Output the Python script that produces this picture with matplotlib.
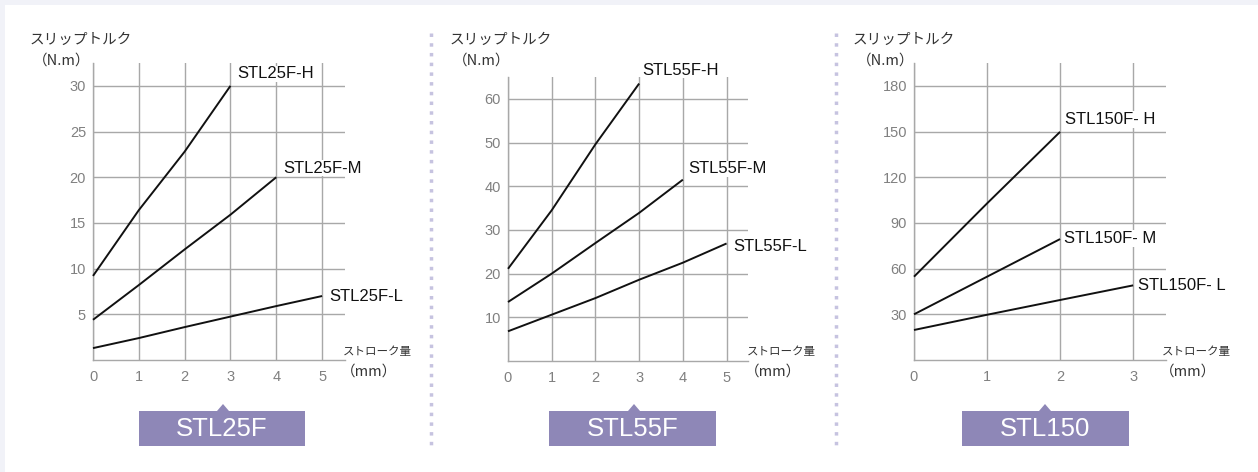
import matplotlib
matplotlib.use("Agg")
import matplotlib.pyplot as plt
from matplotlib.patches import Rectangle, Polygon
from matplotlib.lines import Line2D

plt.rcParams['font.family'] = ['Noto Sans CJK JP', 'DejaVu Sans']
LATIN = ['Liberation Sans', 'DejaVu Sans']

# ---- data ----
p1_x_h = [0, 1, 2, 3]
p1_y_h = [9.2, 16.4, 22.8, 30.0]
p1_x_m = [0, 1, 2, 3, 4]
p1_y_m = [4.4, 8.2, 12.1, 15.9, 20.0]
p1_x_l = [0, 1, 2, 3, 4, 5]
p1_y_l = [1.3, 2.4, 3.6, 4.75, 5.9, 7.0]
p1_labels = ["STL25F-H", "STL25F-M", "STL25F-L"]
p1_yticks = [5, 10, 15, 20, 25, 30]
p1_xticks = [0, 1, 2, 3, 4, 5]

p2_x_h = [0, 1, 2, 3]
p2_y_h = [21.1, 34.5, 49.6, 63.5]
p2_x_m = [0, 1, 2, 3, 4]
p2_y_m = [13.5, 20.0, 27.0, 33.9, 41.5]
p2_x_l = [0, 1, 2, 3, 4, 5]
p2_y_l = [6.8, 10.6, 14.4, 18.6, 22.5, 26.9]
p2_labels = ["STL55F-H", "STL55F-M", "STL55F-L"]
p2_yticks = [10, 20, 30, 40, 50, 60]
p2_xticks = [0, 1, 2, 3, 4, 5]

p3_x_h = [0, 1, 2]
p3_y_h = [54.7, 102.8, 149.8]
p3_x_m = [0, 1, 2]
p3_y_m = [30.0, 54.7, 79.4]
p3_x_l = [0, 1, 2, 3]
p3_y_l = [19.7, 29.7, 39.4, 49.0]
p3_labels = ["STL150F- H", "STL150F- M", "STL150F- L"]
p3_yticks = [30, 60, 90, 120, 150, 180]
p3_xticks = [0, 1, 2, 3]

badges = ["STL25F", "STL55F", "STL150"]
ytitle = "スリップトルク"
yunit = "（N.m）"
xtitle = "ストローク量"
xunit = "（mm）"

W, H = 1258, 472
fig = plt.figure(figsize=(W / 100, H / 100), dpi=100)
fig.patch.set_facecolor("#f1f2f8")
fig.add_artist(Rectangle((5 / W, 0), 1 - 5 / W, 1 - 5 / H, transform=fig.transFigure,
                         facecolor="white", edgecolor="none", zorder=0))

def fx(px):
    return px / W

def fy(py):
    return 1 - py / H

GRID = "#a8a8a8"
TICKC = "#808080"

panels = [
    dict(left=93, right=345, top=63, bottom=360, xlim=5.5, ylim=32.5,
         series=[(p1_x_h, p1_y_h), (p1_x_m, p1_y_m), (p1_x_l, p1_y_l)],
         labels=p1_labels, label_pos=[(3.15, 31.3), (4.15, 21.0), (5.15, 6.9)],
         yticks=p1_yticks, xticks=p1_xticks,
         ytitle_px=(30, 40), yunit_px=(33, 61), xtitle_px=(343, 352), xunit_px=(341, 372),
         badge=(139, 305, 411, 446), tri=223, sep=None),
    dict(left=508, right=748, top=77, bottom=361, xlim=5.49, ylim=65,
         series=[(p2_x_h, p2_y_h), (p2_x_m, p2_y_m), (p2_x_l, p2_y_l)],
         labels=p2_labels, label_pos=[(3.07, 66.6), (4.12, 44.0), (5.15, 26.3)],
         yticks=p2_yticks, xticks=p2_xticks,
         ytitle_px=(450, 40), yunit_px=(453, 61), xtitle_px=(747, 352), xunit_px=(745, 372),
         badge=(549, 716, 411, 446), tri=634, sep=431),
    dict(left=914, right=1166, top=63, bottom=360, xlim=3.45, ylim=195,
         series=[(p3_x_h, p3_y_h), (p3_x_m, p3_y_m), (p3_x_l, p3_y_l)],
         labels=p3_labels, label_pos=[(2.07, 158.0), (2.06, 79.8), (3.06, 49.2)],
         yticks=p3_yticks, xticks=p3_xticks,
         ytitle_px=(853, 40), yunit_px=(857, 61), xtitle_px=(1162, 351), xunit_px=(1160, 372),
         badge=(962, 1129, 411, 446), tri=1045, sep=836),
]

for i, p in enumerate(panels):
    ax = fig.add_axes([fx(p["left"]), fy(p["bottom"]),
                       fx(p["right"] - p["left"]), (p["bottom"] - p["top"]) / H])
    ax.set_facecolor("none")
    ax.set_xlim(0, p["xlim"])
    ax.set_ylim(0, p["ylim"])
    ax.set_xticks(p["xticks"])
    ax.set_yticks(p["yticks"])
    ax.set_xticklabels([str(t) for t in p["xticks"]], family=LATIN)
    ax.set_yticklabels([str(t) for t in p["yticks"]], family=LATIN)
    ax.tick_params(length=0, colors=TICKC, labelsize=10.5)
    ax.tick_params(axis="x", pad=7)
    ax.tick_params(axis="y", pad=5)
    for s in ["top", "right"]:
        ax.spines[s].set_visible(False)
    for s in ["left", "bottom"]:
        ax.spines[s].set_color(GRID)
        ax.spines[s].set_linewidth(1.0)
    ax.grid(True, color=GRID, linewidth=1.0)
    ax.set_axisbelow(True)
    for (xs, ys) in p["series"]:
        ax.plot(xs, ys, color="#111111", linewidth=1.4, clip_on=False, zorder=3,
                solid_capstyle="butt")
    for lab, (lx, ly) in zip(p["labels"], p["label_pos"]):
        ax.text(lx, ly, lab, ha="left", va="center", fontsize=12, color="#111111",
                family=LATIN, clip_on=False, zorder=4,
                bbox=dict(facecolor="white", edgecolor="none", pad=0.5))

    # axis titles
    tx, ty = p["ytitle_px"]
    fig.text(fx(tx), fy(ty), ytitle, ha="left", va="center", fontsize=10.5, color="#333333")
    tx, ty = p["yunit_px"]
    fig.text(fx(tx), fy(ty), yunit, ha="left", va="center", fontsize=10.5, color="#333333")
    tx, ty = p["xtitle_px"]
    fig.text(fx(tx), fy(ty), xtitle, ha="left", va="center", fontsize=8.3, color="#333333")
    tx, ty = p["xunit_px"]
    fig.text(fx(tx), fy(ty), xunit, ha="left", va="center", fontsize=10.5, color="#333333")

    # badge
    bx0, bx1, by0, by1 = p["badge"]
    col = "#8e87b7"
    fig.add_artist(Rectangle((fx(bx0), fy(by1)), fx(bx1 - bx0), (by1 - by0) / H,
                             transform=fig.transFigure, facecolor=col, edgecolor="none"))
    t = p["tri"]
    fig.add_artist(Polygon([(fx(t - 6), fy(by0)), (fx(t + 6), fy(by0)), (fx(t), fy(by0 - 7))],
                           closed=True, transform=fig.transFigure, facecolor=col, edgecolor="none"))
    fig.text(fx((bx0 + bx1) / 2), fy((by0 + by1) / 2 + 1), badges[i], ha="center", va="center",
             fontsize=18.5, color="white", family=LATIN)

    # separator
    if p["sep"] is not None:
        fig.add_artist(Line2D([fx(p["sep"]), fx(p["sep"])], [fy(33), fy(447)],
                              transform=fig.transFigure, color="#c6c3e0", linewidth=2.5,
                              linestyle=(0, (1.0, 1.8))))

fig.savefig("out.png", dpi=100, facecolor=fig.get_facecolor())
